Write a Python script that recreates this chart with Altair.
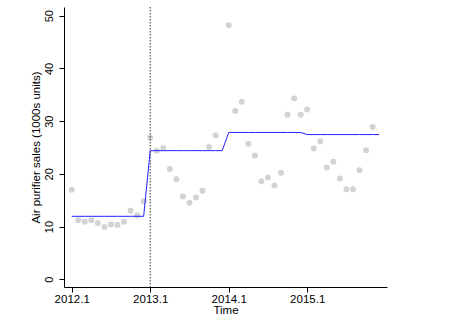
import json
import altair as alt
import pandas as pd

# ---- data ----
tick_labels = ["2012.1", "2013.1", "2014.1", "2015.1"]
tick_months = [0, 12, 24, 36]
y_ticks = [0, 10, 20, 30, 40, 50]
months = list(range(48))  # months since 2012.1
sales = [17.0, 11.2, 10.9, 11.2, 10.7, 9.9, 10.4, 10.3, 10.9, 13.0, 12.1, 14.8,
         26.9, 24.4, 24.9, 20.9, 19.0, 15.7, 14.5, 15.5, 16.8, 25.1, 27.3, None,
         48.2, 31.9, 33.7, 25.7, 23.5, 18.6, 19.3, 17.8, 20.2, 31.2, 34.3, 31.2,
         32.2, 24.8, 26.2, 21.2, 22.3, 19.1, 17.1, 17.1, 20.7, 24.5, 28.9, None]
fitted = [11.95, 11.95, 11.95, 11.95, 11.95, 11.95, 11.95, 11.95, 11.95, 11.95, 11.95, 11.95,
          24.4, 24.4, 24.4, 24.4, 24.4, 24.4, 24.4, 24.4, 24.4, 24.4, 24.4, 24.4,
          27.85, 27.85, 27.85, 27.85, 27.85, 27.85, 27.85, 27.85, 27.85, 27.85, 27.85, 27.85,
          27.45, 27.45, 27.45, 27.45, 27.45, 27.45, 27.45, 27.45, 27.45, 27.45, 27.45, 27.45]
intervention_month = [12]

pts = pd.DataFrame({"month": months, "value": sales}).dropna()
fit = pd.DataFrame({"month": months, "value": fitted})
cut = pd.DataFrame({"month": intervention_month})

FONT = "Liberation Sans"
label_expr = f"{json.dumps(tick_labels)}[indexof({json.dumps(tick_months)}, datum.value)]"

x_enc = alt.X(
    "month:Q",
    scale=alt.Scale(domain=[-1.18, 48.2], nice=False, zero=False),
    axis=alt.Axis(
        values=tick_months, labelExpr=label_expr, title="Time", grid=False,
        tickSize=5, labelPadding=1, labelFlush=False,
        labelFont=FONT, labelFontSize=11.5, labelColor="black",
        titleFont=FONT, titleFontSize=11.5, titleFontWeight="normal", titleColor="black",
        titleBaseline="alphabetic", titleY=26.6,
        domainColor="black", tickColor="black",
    ),
)
y_enc = alt.Y(
    "value:Q",
    scale=alt.Scale(domain=[-1.46, 51.65], nice=False, zero=False),
    axis=alt.Axis(
        values=y_ticks, title="Air purifier sales (1000s units)", grid=False,
        tickSize=5, labelPadding=6.5, labelFlush=False,
        labelAngle=270, labelAlign="center", labelBaseline="alphabetic",
        labelFont=FONT, labelFontSize=11, labelColor="black",
        titleFont=FONT, titleFontSize=11.5, titleFontWeight="normal", titleColor="black",
        titleAngle=270, titleAlign="center", titleBaseline="alphabetic",
        titleX=-25, titleY=140,
        domainColor="black", tickColor="black",
    ),
)

points = alt.Chart(pts).mark_circle(size=36, color="#d3d3d3", opacity=1).encode(x=x_enc, y=y_enc)
line = alt.Chart(fit).mark_line(color="#2020ff", strokeWidth=1).encode(x=x_enc, y=y_enc)
rule = alt.Chart(cut).mark_rule(color="#333333", strokeWidth=1, strokeDash=[1.5, 1.5]).encode(x=x_enc)

chart = alt.layer(points, rule, line).properties(
    width=323, height=280,
    padding={"left": 64, "top": 7, "right": 89, "bottom": 31},
    autosize=alt.AutoSizeParams(type="none"),
    background="white",
).configure_view(stroke=None)

chart.save("out.html", embed_options={"renderer": "svg", "actions": False})
